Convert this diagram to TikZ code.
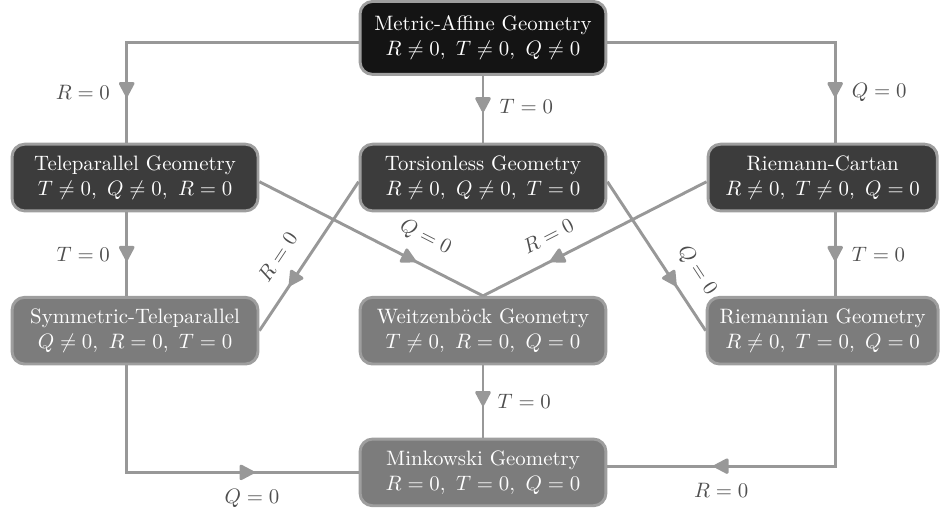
\documentclass[tikz,border=0pt]{standalone}
\usepackage{amsmath}
\usepackage{amssymb}
\usepackage{tikz}
\usetikzlibrary{positioning, arrows.meta, decorations.markings}
\definecolor{geoblack}{RGB}{20,20,20}
\definecolor{geodark}{RGB}{60,60,60}
\definecolor{geomid}{RGB}{124,124,124}
\definecolor{geoborder}{RGB}{158,158,158}
\definecolor{edgegray}{RGB}{152,152,152}
\definecolor{lblgray}{RGB}{78,78,78}
\tikzset{
  geobox/.style   = {rectangle, draw=geoborder, line width=1.4pt, rounded corners=6pt,
                     text=white, align=center, minimum width=118pt,
                     minimum height=32pt, inner xsep=6pt},
  geotop/.style   = {geobox, fill=geoblack, minimum height=35pt},
  geoupper/.style = {geobox, fill=geodark},
  geolower/.style = {geobox, fill=geomid},
  geolabel/.style = {text=lblgray},
  geoarrow/.style = {draw=edgegray, line width=1.4pt, postaction={decorate},
                     decoration={markings, mark=at position #1 with
                       {\arrow{Triangle[length=8pt,width=8pt,round]}}}}
}

\begin{document}
\begin{tikzpicture}[node distance=67pt and 165pt, on grid]
\useasboundingbox (-231.8pt,18.2pt) rectangle (222.2pt,-226.1pt);

\node[geotop] (ma) {Metric-Affine Geometry\\$R\neq 0,\ T\neq 0,\ Q\neq 0$};
\node[geoupper, below=of ma] (tl) {Torsionless Geometry\\$R\neq 0,\ Q\neq 0,\ T=0$};
\node[geoupper, left=167pt of tl] (tp) {Teleparallel Geometry\\$T\neq 0,\ Q\neq 0,\ R=0$};
\node[geoupper, right=163pt of tl, minimum width=110pt] (rc) {Riemann-Cartan\\$R\neq 0,\ T\neq 0,\ Q=0$};
\node[geolower, below=73.5pt of tl] (wb) {Weitzenb\"ock Geometry\\$T\neq 0,\ R=0,\ Q=0$};
\node[geolower, left=167pt of wb] (st) {Symmetric-Teleparallel\\$Q\neq 0,\ R=0,\ T=0$};
\node[geolower, right=163pt of wb, minimum width=110pt] (rm) {Riemannian Geometry\\$R\neq 0,\ T=0,\ Q=0$};
\node[geolower, below=68pt of wb] (mk) {Minkowski Geometry\\$R=0,\ T=0,\ Q=0$};

% columns of the outer connectors
\coordinate (lx) at ([xshift=-4pt]tp.center);
\coordinate (rx) at ([xshift=6pt]rc.center);

% from the top
\draw[geoarrow=-22pt] ([yshift=-2pt]ma.west) -| (lx |- tp.north)
  node[geolabel, pos=0.75, left=4pt] {$R=0$};
\draw[geoarrow=0.54] (ma) -- (tl) node[geolabel, pos=0.45, right=4pt] {$T=0$};
\draw[geoarrow=-22pt] ([yshift=-2pt]ma.east) -| (rx |- rc.north)
  node[geolabel, pos=0.75, right=4pt] {$Q=0$};

% second row down
\draw[geoarrow=0.58] (lx |- tp.south) -- (lx |- st.north)
  node[geolabel, midway, left=4pt] {$T=0$};
\draw[geoarrow=0.58] (rx |- rc.south) -- (rx |- rm.north)
  node[geolabel, midway, right=4pt] {$T=0$};
\draw[geoarrow=0.7] ([yshift=-2pt]tp.east) -- (wb.north)
  node[geolabel, pos=0.69, sloped, above=4pt] {$Q=0$};
\draw[geoarrow=0.7] ([yshift=-2pt]rc.west) -- (wb.north)
  node[geolabel, pos=0.66, sloped, above=4pt] {$R=0$};
\draw[geoarrow=0.7] ([yshift=-2pt]tl.west) -- (st.east)
  node[geolabel, pos=0.6, sloped, above=5pt] {$R=0$};
\draw[geoarrow=0.7] ([yshift=-2pt]tl.east) -- (rm.west)
  node[geolabel, pos=0.69, sloped, above=4pt] {$Q=0$};

% into Minkowski
\draw[geoarrow=0.56] (wb) -- (mk) node[geolabel, pos=0.5, right=3pt] {$T=0$};
\draw[geoarrow=-50pt] (lx |- st.south) |- (mk.west)
  node[geolabel, pos=0.77, below=4pt] {$Q=0$};
\draw[geoarrow=-51pt] (rx |- rm.south) |- ([yshift=3pt]mk.east)
  node[geolabel, pos=0.75, below=4pt] {$R=0$};
\end{tikzpicture}
\end{document}
